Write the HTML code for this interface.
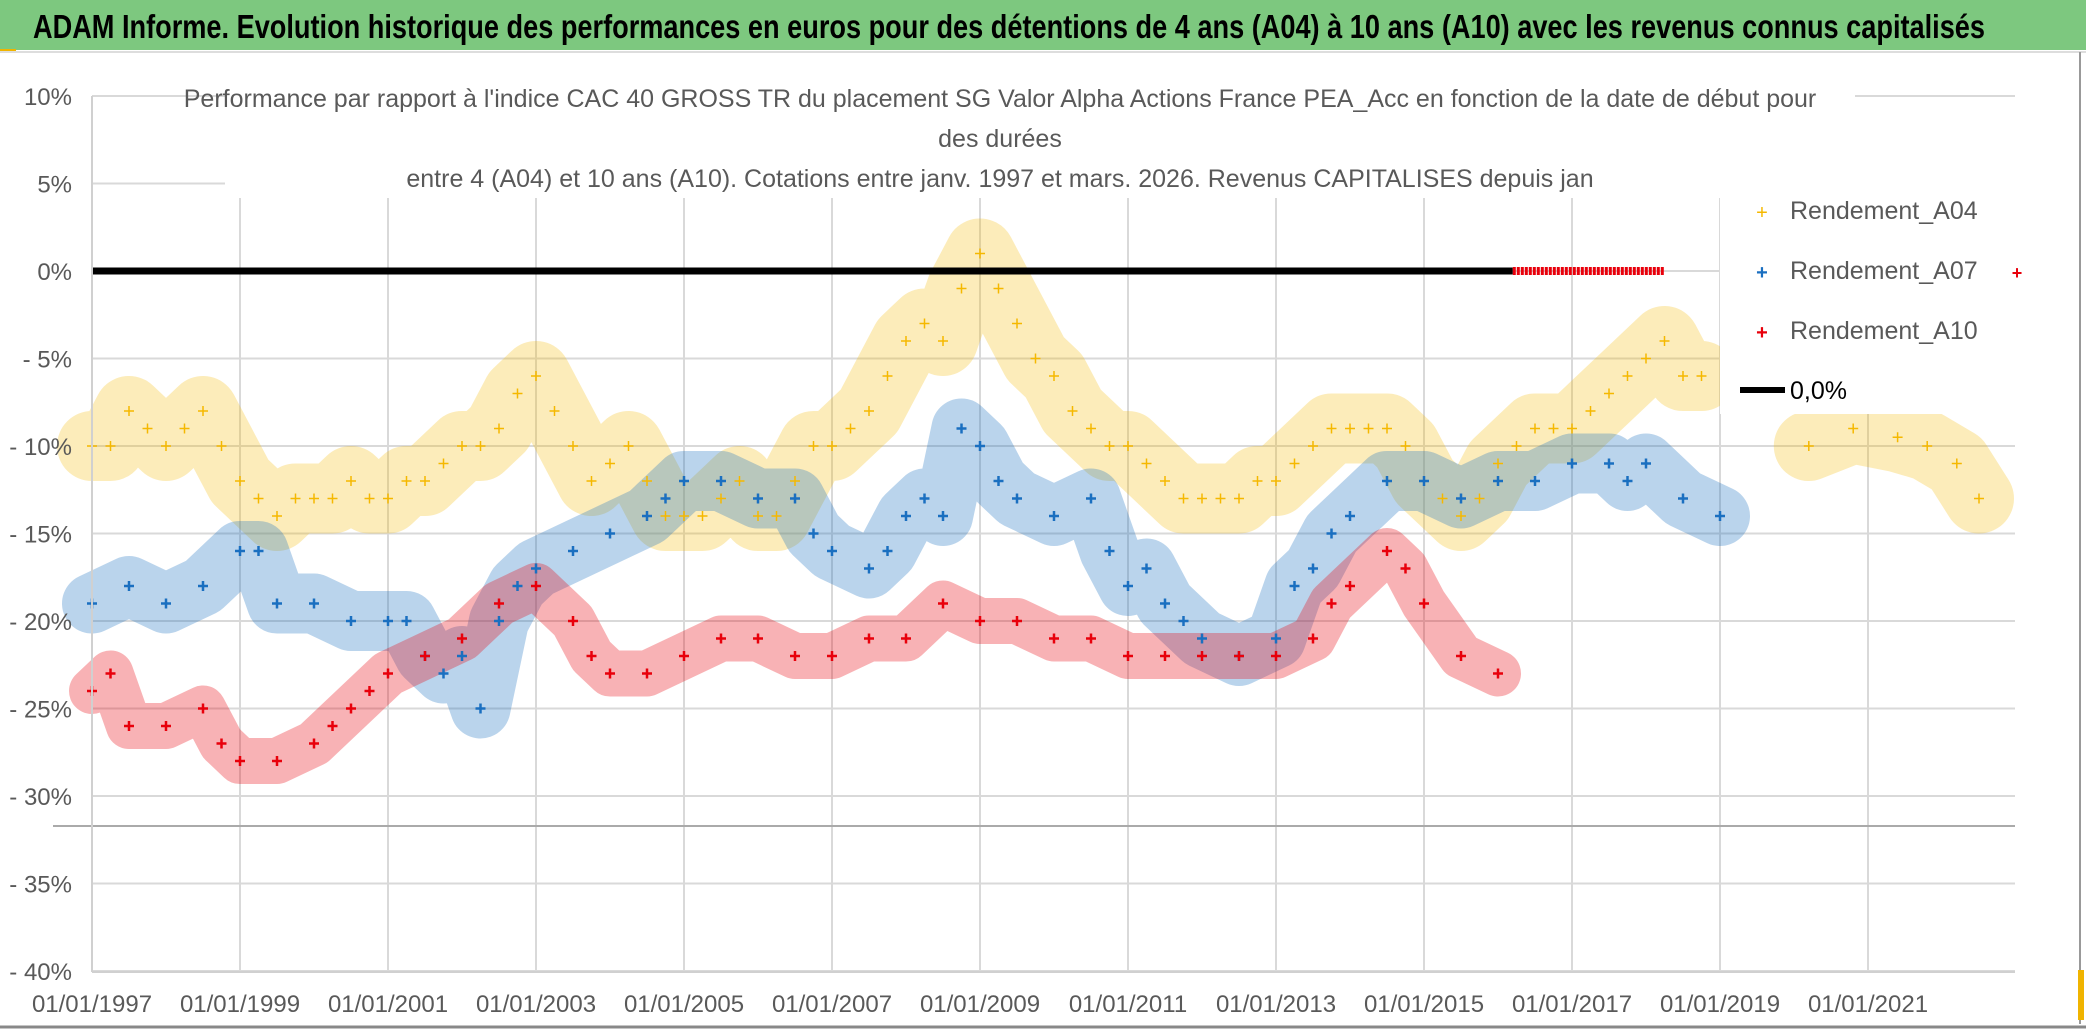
<!DOCTYPE html>
<html><head><meta charset="utf-8">
<style>
body{margin:0;background:#fff;}
svg{display:block;font-family:"Liberation Sans",sans-serif;}
</style></head>
<body>
<svg id="chart" width="2086" height="1031" viewBox="0 0 2086 1031">
<rect x="0" y="0" width="2086" height="1031" fill="#fff"/>
<rect x="0" y="0" width="2086" height="50" fill="#7dc87f"/>
<rect x="0" y="49" width="16" height="4" fill="#f0b400"/>
<line x1="0" y1="52" x2="2086" y2="52" stroke="#ddd" stroke-width="2"/>
<text x="33" y="38" font-size="33" font-weight="bold" fill="#000" textLength="1952" lengthAdjust="spacingAndGlyphs">ADAM Informe. Evolution historique des performances en euros pour des détentions de 4 ans (A04) à 10 ans (A10) avec les revenus connus capitalisés</text>
<line x1="2080" y1="52" x2="2080" y2="1024" stroke="#999" stroke-width="2"/>
<line x1="0" y1="1027" x2="2086" y2="1027" stroke="#888" stroke-width="3"/>
<rect x="2078" y="970" width="6" height="50" fill="#f0b400"/>
<g id="grid"></g>
<g id="bands"></g>
<g id="marks"></g>
<g id="axes"></g>
<rect x="225" y="80" width="1630" height="112" fill="#fff"/>
<rect x="1720" y="182" width="295" height="232" fill="#fff"/>
<text x="1000" y="107" font-size="25" fill="#595959" text-anchor="middle">Performance par rapport à l'indice CAC 40 GROSS TR  du placement SG Valor Alpha Actions France PEA_Acc en fonction de la date de début pour</text>
<text x="1000" y="147" font-size="25" fill="#595959" text-anchor="middle">des durées</text>
<text x="1000" y="187" font-size="25" fill="#595959" text-anchor="middle">entre 4 (A04) et 10 ans (A10). Cotations entre janv. 1997 et mars. 2026. Revenus CAPITALISES depuis jan</text>
<g>
 <g><text x="1762" y="219" font-size="20" fill="#f5b800" text-anchor="middle">+</text><text x="1790" y="219" font-size="25" fill="#595959">Rendement_A04</text></g>
 <g><text x="1762" y="279" font-size="20" fill="#1a6fc0" text-anchor="middle" font-weight="bold">+</text><text x="1790" y="279" font-size="25" fill="#595959">Rendement_A07</text></g>
 <g><text x="1762" y="339" font-size="20" fill="#e8000b" text-anchor="middle" font-weight="bold">+</text><text x="1790" y="339" font-size="25" fill="#595959">Rendement_A10</text></g>
 <g><line x1="1740" y1="390" x2="1785" y2="390" stroke="#000" stroke-width="6"/><text x="1790" y="399" font-size="25" fill="#000">0,0%</text></g>
 <text x="2017" y="279" font-size="18" fill="#e8000b" text-anchor="middle" font-weight="bold">+</text>
</g>
</svg>
<script>
const yearsA04=[1997,1997.25,1997.5,1997.75,1998,1998.25,1998.5,1998.75,1999,1999.25,1999.5,1999.75,2000,2000.25,2000.5,2000.75,2001,2001.25,2001.5,2001.75,2002,2002.25,2002.5,2002.75,2003,2003.25,2003.5,2003.75,2004,2004.25,2004.5,2004.75,2005,2005.25,2005.5,2005.75,2006,2006.25,2006.5,2006.75,2007,2007.25,2007.5,2007.75,2008,2008.25,2008.5,2008.75,2009,2009.25,2009.5,2009.75,2010,2010.25,2010.5,2010.75,2011,2011.25,2011.5,2011.75,2012,2012.25,2012.5,2012.75,2013,2013.25,2013.5,2013.75,2014,2014.25,2014.5,2014.75,2015,2015.25,2015.5,2015.75,2016,2016.25,2016.5,2016.75,2017,2017.25,2017.5,2017.75,2018,2018.25,2018.5,2018.75,2020.2,2020.8,2021.4,2021.8,2022.2,2022.5];
const valsA04=[-10,-10,-8,-9,-10,-9,-8,-10,-12,-13,-14,-13,-13,-13,-12,-13,-13,-12,-12,-11,-10,-10,-9,-7,-6,-8,-10,-12,-11,-10,-12,-14,-14,-14,-13,-12,-14,-14,-12,-10,-10,-9,-8,-6,-4,-3,-4,-1,1,-1,-3,-5,-6,-8,-9,-10,-10,-11,-12,-13,-13,-13,-13,-12,-12,-11,-10,-9,-9,-9,-9,-10,-12,-13,-14,-13,-11,-10,-9,-9,-9,-8,-7,-6,-5,-4,-6,-6,-10,-9,-9.5,-10,-11,-13];
const yearsA07=[1997,1997.5,1998,1998.5,1999,1999.25,1999.5,2000,2000.5,2001,2001.25,2001.5,2001.75,2002,2002.25,2002.5,2002.75,2003,2003.5,2004,2004.5,2004.75,2005,2005.5,2006,2006.5,2006.75,2007,2007.5,2007.75,2008,2008.25,2008.5,2008.75,2009,2009.25,2009.5,2010,2010.5,2010.75,2011,2011.25,2011.5,2011.75,2012,2012.5,2013,2013.25,2013.5,2013.75,2014,2014.5,2015,2015.5,2016,2016.5,2017,2017.5,2017.75,2018,2018.5,2019];
const valsA07=[-19,-18,-19,-18,-16,-16,-19,-19,-20,-20,-20,-22,-23,-22,-25,-20,-18,-17,-16,-15,-14,-13,-12,-12,-13,-13,-15,-16,-17,-16,-14,-13,-14,-9,-10,-12,-13,-14,-13,-16,-18,-17,-19,-20,-21,-22,-21,-18,-17,-15,-14,-12,-12,-13,-12,-12,-11,-11,-12,-11,-13,-14];
const yearsA10=[1997,1997.25,1997.5,1998,1998.5,1998.75,1999,1999.5,2000,2000.25,2000.5,2000.75,2001,2001.5,2002,2002.5,2003,2003.5,2003.75,2004,2004.5,2005,2005.5,2006,2006.5,2007,2007.5,2008,2008.5,2009,2009.5,2010,2010.5,2011,2011.5,2012,2012.5,2013,2013.5,2013.75,2014,2014.5,2014.75,2015,2015.5,2016];
const valsA10=[-24,-23,-26,-26,-25,-27,-28,-28,-27,-26,-25,-24,-23,-22,-21,-19,-18,-20,-22,-23,-23,-22,-21,-21,-22,-22,-21,-21,-19,-20,-20,-21,-21,-22,-22,-22,-22,-22,-21,-19,-18,-16,-17,-19,-22,-23];
const zeroBlackRange=[1997,2016.2];
const zeroRedRange=[2016.2,2018.25];
const yTicks=[10,5,0,-5,-10,-15,-20,-25,-30,-35,-40];
const yTickLabels=["10%","5%","0%","- 5%","- 10%","- 15%","- 20%","- 25%","- 30%","- 35%","- 40%"];
const xTicks=[1997,1999,2001,2003,2005,2007,2009,2011,2013,2015,2017,2019,2021];
const xTickLabels=["01/01/1997","01/01/1999","01/01/2001","01/01/2003","01/01/2005","01/01/2007","01/01/2009","01/01/2011","01/01/2013","01/01/2015","01/01/2017","01/01/2019","01/01/2021"];

const NS="http://www.w3.org/2000/svg";
const X=y=>92+(y-1997)*74;
const Y=v=>271-v*17.5;
function mk(tag,attrs,parent){const e=document.createElementNS(NS,tag);for(const k in attrs)e.setAttribute(k,attrs[k]);parent.appendChild(e);return e;}
const grid=document.getElementById('grid'),bands=document.getElementById('bands'),marks=document.getElementById('marks'),axes=document.getElementById('axes');

yTicks.forEach((t,i)=>{
  const l=mk('line',{x1:92,x2:2015,y1:Y(t),y2:Y(t),stroke:'#d9d9d9','stroke-width':2},grid);
  
  
  const tx=mk('text',{x:72,y:Y(t)+9,'font-size':24,fill:'#595959','text-anchor':'end'},axes);
  tx.textContent=yTickLabels[i];
  
  
});
xTicks.forEach((t,i)=>{
  const l=mk('line',{x1:X(t),x2:X(t),y1:198,y2:972,stroke:'#d9d9d9','stroke-width':2},grid);
  
  
  const tx=mk('text',{x:X(t),y:1012,'font-size':24,fill:'#595959','text-anchor':'middle'},axes);
  tx.textContent=xTickLabels[i];
  
  
});
const ref=mk('line',{x1:53,x2:2015,y1:826,y2:826,stroke:'#aaa','stroke-width':2},grid);



function series(years,vals,color,bandW,op,bold,name){
  let seg=[];const segs=[];
  years.forEach((y,i)=>{if(i>0&&y-years[i-1]>1){segs.push(seg);seg=[];}seg.push(X(y)+','+Y(vals[i]));});
  segs.push(seg);
  segs.forEach(s=>{
    const p=mk('polyline',{points:s.join(' '),fill:'none',stroke:color,'stroke-width':bandW,'stroke-opacity':op,'stroke-linejoin':'round','stroke-linecap':'round'},bands);
    
    
  });
  years.forEach((y,i)=>{
    const cx=X(y),cy=Y(vals[i]);
    const m=mk('path',{d:`M${cx-5},${cy}H${cx+5}M${cx},${cy-5}V${cy+5}`,stroke:color,'stroke-width':bold?2.5:1.5},marks);
    
    
  });
}
series(yearsA04,valsA04,'#f5b800',70,0.27,false,'a04');
series(yearsA07,valsA07,'#1a6fc0',60,0.3,true,'a07');
series(yearsA10,valsA10,'#e8000b',46,0.3,true,'a10');

const zb=mk('line',{x1:X(zeroBlackRange[0]),x2:X(zeroBlackRange[1]),y1:Y(0),y2:Y(0),stroke:'#000','stroke-width':7},marks);


const zr=mk('line',{x1:X(zeroRedRange[0]),x2:X(zeroRedRange[1]),y1:Y(0),y2:Y(0),stroke:'#e8000b','stroke-width':8,'stroke-dasharray':'3 1'},marks);


const ax=mk('line',{x1:92,x2:2015,y1:972,y2:972,stroke:'#d0d0d0','stroke-width':2},axes);


const ay=mk('line',{x1:92,x2:92,y1:96,y2:972,stroke:'#d0d0d0','stroke-width':2},axes);


</script>
</body></html>
